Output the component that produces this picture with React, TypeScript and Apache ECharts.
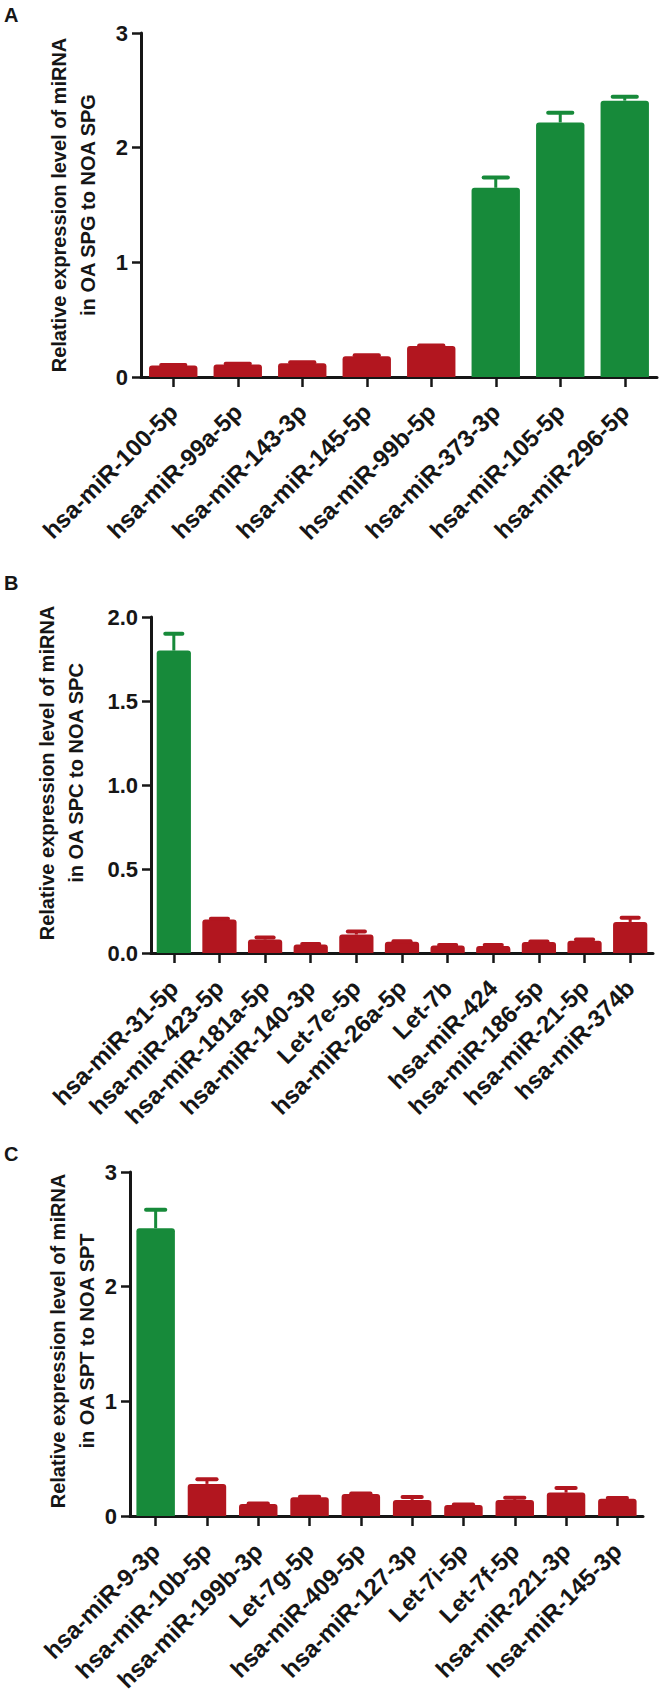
import React, { useEffect, useRef } from "react";
import * as echarts from "echarts";

// ---------- Data ----------
const catsA = ["hsa-miR-100-5p", "hsa-miR-99a-5p", "hsa-miR-143-3p", "hsa-miR-145-5p", "hsa-miR-99b-5p", "hsa-miR-373-3p", "hsa-miR-105-5p", "hsa-miR-296-5p"];
const valsA = [0.10, 0.11, 0.12, 0.18, 0.27, 1.65, 2.22, 2.41];
const errsA = [0.005, 0.005, 0.008, 0.01, 0.005, 0.09, 0.085, 0.035];
const upA = [false, false, false, false, false, true, true, true];
const ticksA = [0, 1, 2, 3];

const catsB = ["hsa-miR-31-5p", "hsa-miR-423-5p", "hsa-miR-181a-5p", "hsa-miR-140-3p", "Let-7e-5p", "hsa-miR-26a-5p", "Let-7b", "hsa-miR-424", "hsa-miR-186-5p", "hsa-miR-21-5p", "hsa-miR-374b"];
const valsB = [1.80, 0.20, 0.08, 0.05, 0.11, 0.067, 0.045, 0.042, 0.065, 0.073, 0.185];
const errsB = [0.10, 0.004, 0.012, 0.003, 0.018, 0.003, 0.003, 0.005, 0.003, 0.008, 0.025];
const upB = [true, false, false, false, false, false, false, false, false, false, false];
const ticksB = [0, 0.5, 1.0, 1.5, 2.0];

const catsC = ["hsa-miR-9-3p", "hsa-miR-10b-5p", "hsa-miR-199b-3p", "Let-7g-5p", "hsa-miR-409-5p", "hsa-miR-127-3p", "Let-7i-5p", "Let-7f-5p", "hsa-miR-221-3p", "hsa-miR-145-3p"];
const valsC = [2.51, 0.28, 0.105, 0.163, 0.192, 0.14, 0.096, 0.14, 0.204, 0.151];
const errsC = [0.16, 0.04, 0.005, 0.005, 0.005, 0.025, 0.005, 0.02, 0.04, 0.005];
const upC = [true, false, false, false, false, false, false, false, false, false];
const ticksC = [0, 1, 2, 3];

const titlesY = [
  "Relative expression level of miRNA\nin OA SPG to NOA SPG",
  "Relative expression level of miRNA\nin OA SPC to NOA SPC",
  "Relative expression level of miRNA\nin OA SPT to NOA SPT",
];
const panelLetters = ["A", "B", "C"];

// ---------- Style ----------
const RED = "#B2161F";
const GREEN = "#178A3A";
const INK = "#161616";
const FONT = "'Liberation Sans', Arial, sans-serif";

const panels = [
  { cats: catsA, vals: valsA, errs: errsA, up: upA, ticks: ticksA, dec: 0, grid: { left: 141, top: 33, width: 516, height: 344 }, title: { x: 73, y: 205 }, letter: { left: 4, top: 5 } },
  { cats: catsB, vals: valsB, errs: errsB, up: upB, ticks: ticksB, dec: 1, grid: { left: 151, top: 617, width: 502, height: 336 }, title: { x: 61, y: 773 }, letter: { left: 4, top: 573 } },
  { cats: catsC, vals: valsC, errs: errsC, up: upC, ticks: ticksC, dec: 0, grid: { left: 130, top: 1172, width: 513, height: 344 }, title: { x: 72, y: 1341 }, letter: { left: 4, top: 1144 } },
];

export default function App() {
  const ref = useRef<HTMLDivElement>(null);
  useEffect(() => {
    document.body.style.margin = "0";
    if (!ref.current) return;
    const chart = echarts.init(ref.current, undefined, { renderer: "svg" });

    const grid: any[] = [];
    const xAxis: any[] = [];
    const yAxis: any[] = [];
    const series: any[] = [];
    const graphic: any[] = [];

    panels.forEach((p, k) => {
      grid.push({ ...p.grid, containLabel: false });
      xAxis.push({
        type: "category",
        gridIndex: k,
        data: p.cats,
        axisLine: { show: true, lineStyle: { color: INK, width: 3 } },
        axisTick: { show: true, alignWithLabel: true, length: 10, lineStyle: { color: INK, width: 2.5 } },
        axisLabel: {
          interval: 0,
          rotate: 45,
          margin: 31,
          color: INK,
          fontFamily: FONT,
          fontWeight: "bold",
          fontSize: 24,
        },
        splitLine: { show: false },
      });
      yAxis.push({
        type: "value",
        gridIndex: k,
        min: p.ticks[0],
        max: p.ticks[p.ticks.length - 1],
        interval: p.ticks[1] - p.ticks[0],
        axisLine: { show: true, lineStyle: { color: INK, width: 3 } },
        axisTick: { show: true, length: 9, lineStyle: { color: INK, width: 2.5 } },
        axisLabel: {
          margin: 13,
          color: INK,
          fontFamily: FONT,
          fontWeight: "bold",
          fontSize: 22,
          formatter: (v: number) => v.toFixed(p.dec),
        },
        splitLine: { show: false },
      });
      series.push({
        type: "bar",
        xAxisIndex: k,
        yAxisIndex: k,
        barWidth: "75%",
        data: p.vals.map((v, i) => ({
          value: v,
          itemStyle: { color: p.up[i] ? GREEN : RED, borderRadius: [3, 3, 0, 0] },
        })),
        z: 2,
      });
      series.push({
        type: "custom",
        xAxisIndex: k,
        yAxisIndex: k,
        encode: { x: 0, y: 1 },
        data: p.vals.map((v, i) => [i, v, p.errs[i]]),
        z: 3,
        renderItem: (params: any, api: any) => {
          const i = api.value(0);
          const v = api.value(1);
          const e = api.value(2);
          const base = api.coord([i, v]);
          const top = api.coord([i, v + e]);
          const bw = api.size([1, 0])[0] * 0.75;
          const capW = bw * 0.5;
          const color = p.up[params.dataIndex] ? GREEN : RED;
          return {
            type: "group",
            children: [
              { type: "line", shape: { x1: base[0], y1: base[1], x2: top[0], y2: top[1] }, style: { stroke: color, lineWidth: 3 } },
              { type: "line", shape: { x1: top[0] - capW / 2, y1: top[1], x2: top[0] + capW / 2, y2: top[1] }, style: { stroke: color, lineWidth: 4, lineCap: "round" } },
            ],
          };
        },
      });
      graphic.push({
        type: "text",
        x: p.title.x,
        y: p.title.y,
        rotation: Math.PI / 2,
        style: {
          text: titlesY[k],
          align: "center",
          verticalAlign: "middle",
          font: `bold 20px ${FONT}`,
          lineHeight: 29,
          fill: INK,
        },
      });
      graphic.push({
        type: "text",
        left: p.letter.left,
        top: p.letter.top,
        style: { text: panelLetters[k], font: `bold 20px ${FONT}`, fill: INK },
      });
    });

    chart.setOption({
      animation: false,
      backgroundColor: "#ffffff",
      grid,
      xAxis,
      yAxis,
      series,
      graphic,
    });
    return () => chart.dispose();
  }, []);
  return <div ref={ref} style={{ width: 660, height: 1702 }} />;
}
